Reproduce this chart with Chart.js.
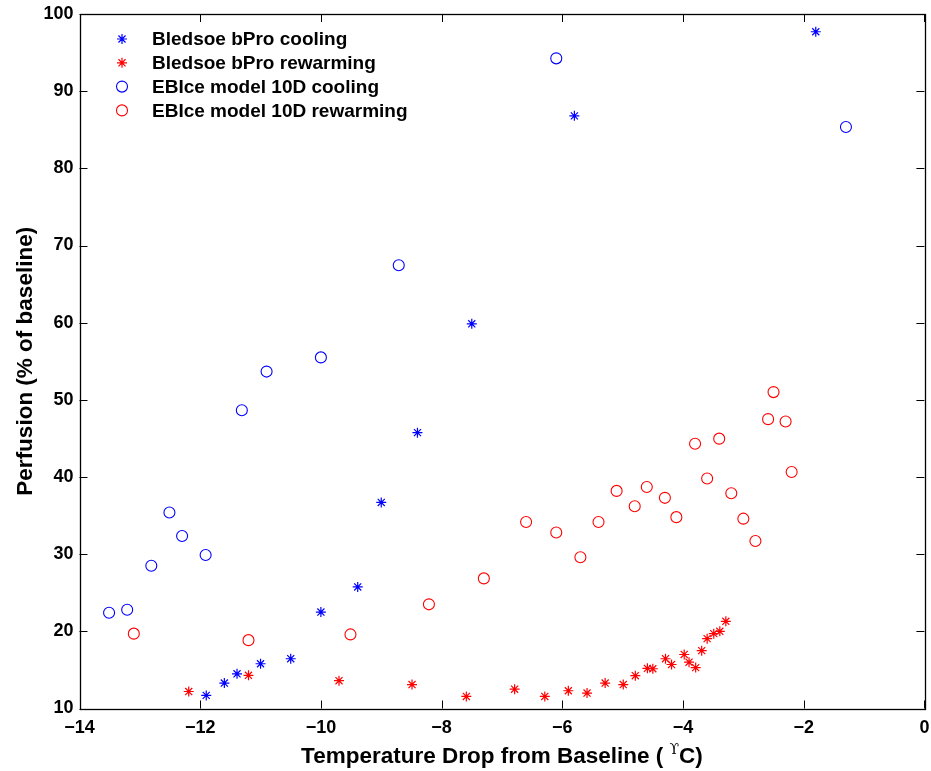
<!DOCTYPE html>
<html>
<head>
<meta charset="utf-8">
<script src="https://cdn.jsdelivr.net/npm/chart.js@4.4.1/dist/chart.umd.min.js"></script>
<style>
    html, body { margin: 0; padding: 0; background: #ffffff; }
    #wrap { width: 931px; height: 771px; position: relative; }
</style>
</head>
<body>
<div id="wrap"><canvas id="perfusionChart"></canvas></div>
<script>
// Bledsoe bPro (asterisks)
const bproCoolX = [-11.9, -11.6, -11.39, -11.0, -10.5, -10.0, -9.39, -9.0, -8.4, -7.5, -5.8, -1.8];
const bproCoolY = [11.7, 13.3, 14.5, 15.8, 16.45, 22.5, 25.75, 36.7, 45.75, 59.85, 86.8, 97.7];

const bproWarmX = [-12.19, -11.2, -9.7, -8.49, -7.59, -6.79, -6.29, -5.9, -5.59, -5.29, -4.99, -4.79,
                   -4.59, -4.5, -4.29, -4.19, -3.98, -3.9, -3.79, -3.69, -3.6, -3.49, -3.39, -3.29];
const bproWarmY = [12.2, 14.3, 13.6, 13.1, 11.56, 12.5, 11.56, 12.3, 12.0, 13.3, 13.1, 14.25,
                   15.2, 15.15, 16.45, 15.7, 17.0, 16.0, 15.3, 17.5, 19.05, 19.7, 20.0, 21.3];

// EBIce model 10D (open circles)
const ebiceCoolX = [-13.51, -13.21, -12.81, -12.51, -12.3, -11.91, -11.31, -10.9, -10.0, -8.71, -6.1, -1.3];
const ebiceCoolY = [22.4, 22.8, 28.5, 35.4, 32.35, 29.9, 48.65, 53.66, 55.5, 67.45, 94.25, 85.36];

const ebiceWarmX = [-13.1, -11.2, -9.51, -8.21, -7.3, -6.6, -6.1, -5.7, -5.4, -5.1, -4.8, -4.6,
                    -4.3, -4.11, -3.8, -3.6, -3.4, -3.2, -3.0, -2.8, -2.59, -2.5, -2.3, -2.2];
const ebiceWarmY = [19.7, 18.86, 19.6, 23.5, 26.86, 34.16, 32.8, 29.6, 34.16, 38.2, 36.2, 38.7,
                    37.3, 34.8, 44.3, 39.8, 44.97, 37.9, 34.6, 31.7, 47.5, 51.0, 47.2, 40.65];

const seriesNames = ['Bledsoe bPro cooling', 'Bledsoe bPro rewarming', 'EBIce model 10D cooling', 'EBIce model 10D rewarming'];
const xTitle = ['Temperature Drop from Baseline ( ', '\u03D2', 'C)'];
const yTitle = 'Perfusion (% of baseline)';

const FONT = '"Liberation Sans", Arial, Helvetica, sans-serif';

function toPoints(xs, ys) {
    return xs.map((x, i) => ({ x: x, y: ys[i] }));
}

function makeSet(label, xs, ys, color, style) {
    return {
        label: label,
        data: toPoints(xs, ys),
        pointStyle: style,
        pointRadius: style === 'star' ? 5 : 5.5,
        pointHoverRadius: style === 'star' ? 5 : 5.5,
        borderColor: color,
        backgroundColor: 'rgba(0,0,0,0)',
        pointBorderWidth: style === 'star' ? 1.2 : 1.1,
        showLine: false
    };
}

// box round the plot with matlab-style inward ticks on all four sides
const boxPlugin = {
    id: 'boxTicks',
    afterDatasetsDraw(chart) {
        const { ctx, chartArea: a, scales } = chart;
        const len = 8;
        ctx.save();
        ctx.strokeStyle = '#000';
        ctx.lineWidth = 1;
        ctx.beginPath();
        scales.x.ticks.forEach(t => {
            const px = Math.round(scales.x.getPixelForValue(t.value)) + 0.5;
            ctx.moveTo(px, a.bottom); ctx.lineTo(px, a.bottom - len);
            ctx.moveTo(px, a.top); ctx.lineTo(px, a.top + len);
        });
        scales.y.ticks.forEach(t => {
            const py = Math.round(scales.y.getPixelForValue(t.value)) + 0.5;
            ctx.moveTo(a.left, py); ctx.lineTo(a.left + len, py);
            ctx.moveTo(a.right, py); ctx.lineTo(a.right - len, py);
        });
        ctx.stroke();
        ctx.lineWidth = 1.3;
        ctx.strokeRect(Math.round(a.left) + 0.5, Math.round(a.top) + 0.5,
                       Math.round(a.right - a.left), Math.round(a.bottom - a.top));
        ctx.restore();
    }
};

// legend sitting inside the top-left corner, markers drawn with the dataset styles
const innerLegend = {
    id: 'innerLegend',
    afterDatasetsDraw(chart) {
        const ctx = chart.ctx;
        const x0 = 122, y0 = 39, step = 23.8;
        ctx.save();
        chart.data.datasets.forEach((ds, i) => {
            const y = y0 + i * step;
            ctx.strokeStyle = ds.borderColor;
            ctx.fillStyle = 'rgba(0,0,0,0)';
            ctx.lineWidth = ds.pointBorderWidth;
            Chart.helpers.drawPoint(ctx, {
                pointStyle: ds.pointStyle,
                radius: ds.pointRadius,
                borderWidth: ds.pointBorderWidth,
                rotation: 0
            }, x0, y);
            ctx.fillStyle = '#000';
            ctx.font = 'bold 19px ' + FONT;
            ctx.textBaseline = 'middle';
            ctx.textAlign = 'left';
            ctx.fillText(ds.label, 152, y + 1);
        });
        ctx.restore();
    }
};

// axis titles; the x title carries a small raised glyph before the C
const titlesPlugin = {
    id: 'axisTitles',
    afterDraw(chart) {
        const { ctx, chartArea: a } = chart;
        ctx.save();
        ctx.fillStyle = '#000';
        ctx.textBaseline = 'alphabetic';
        ctx.textAlign = 'left';

        const big = 'bold 22.5px ' + FONT;
        const small = '14px "DejaVu Serif", serif';
        ctx.font = big;
        const w1 = ctx.measureText(xTitle[0]).width;
        const w3 = ctx.measureText(xTitle[2]).width;
        ctx.font = small;
        const w2 = ctx.measureText(xTitle[1]).width;
        let x = (a.left + a.right) / 2 - (w1 + w2 + w3) / 2;
        const base = 763;
        ctx.font = big;
        ctx.fillText(xTitle[0], x, base);
        x += w1;
        ctx.font = small;
        ctx.fillText(xTitle[1], x, base - 9);
        x += w2;
        ctx.font = big;
        ctx.fillText(xTitle[2], x, base);

        ctx.translate(26, (a.top + a.bottom) / 2);
        ctx.rotate(-Math.PI / 2);
        ctx.textAlign = 'center';
        ctx.textBaseline = 'middle';
        ctx.font = big;
        ctx.fillText(yTitle, 0, 0);
        ctx.restore();
    }
};

document.addEventListener('DOMContentLoaded', function () {
    const ctx = document.getElementById('perfusionChart').getContext('2d');
    const minus = v => String(v).replace('-', '\u2212');

    new Chart(ctx, {
        type: 'scatter',
        data: {
            datasets: [
                makeSet(seriesNames[0], bproCoolX, bproCoolY, '#0000ff', 'star'),
                makeSet(seriesNames[1], bproWarmX, bproWarmY, '#ff0000', 'star'),
                makeSet(seriesNames[2], ebiceCoolX, ebiceCoolY, '#0000ff', 'circle'),
                makeSet(seriesNames[3], ebiceWarmX, ebiceWarmY, '#ff0000', 'circle')
            ]
        },
        options: {
            responsive: true,
            maintainAspectRatio: false,
            animation: false,
            layout: { padding: { top: 14, right: 4, left: 0, bottom: 0 } },
            plugins: {
                legend: { display: false },
                tooltip: { enabled: false }
            },
            scales: {
                x: {
                    type: 'linear',
                    min: -14,
                    max: 0,
                    grid: { display: false, drawTicks: false },
                    border: { display: false },
                    ticks: {
                        stepSize: 2,
                        padding: 9,
                        color: '#000',
                        font: { family: FONT, size: 18, weight: 'bold' },
                        callback: minus
                    },
                    afterFit: s => { s.height = 62.5; s.paddingLeft = 0; s.paddingRight = 0; }
                },
                y: {
                    type: 'linear',
                    min: 10,
                    max: 100,
                    grid: { display: false, drawTicks: false },
                    border: { display: false },
                    ticks: {
                        stepSize: 10,
                        padding: 6,
                        color: '#000',
                        font: { family: FONT, size: 18, weight: 'bold' }
                    },
                    afterFit: s => { s.width = 79.5; s.paddingTop = 0; s.paddingBottom = 0; }
                }
            }
        },
        plugins: [boxPlugin, innerLegend, titlesPlugin]
    });
});
</script>
</body>
</html>
